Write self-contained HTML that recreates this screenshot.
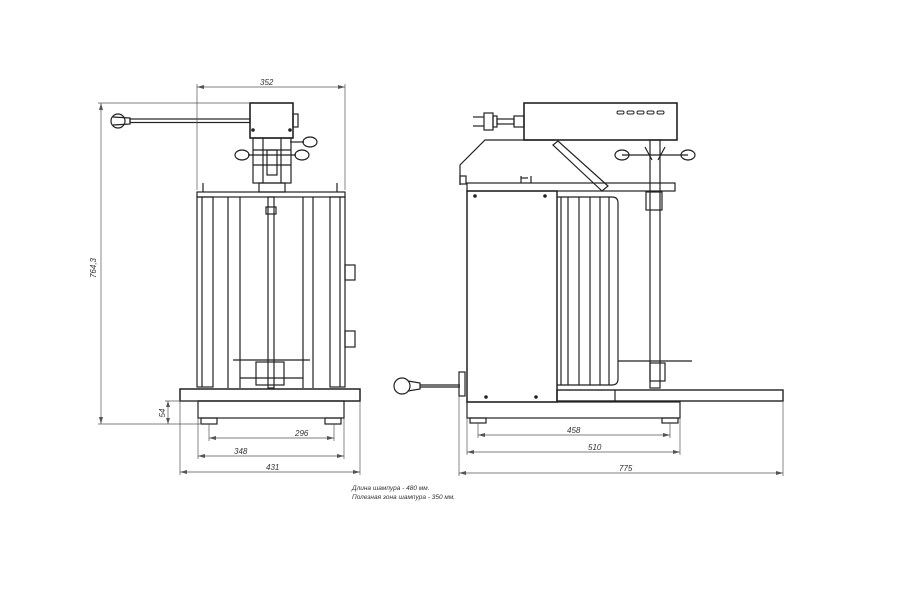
<!DOCTYPE html>
<html><head><meta charset="utf-8"><style>
html,body{margin:0;padding:0;background:#fff;width:900px;height:600px;overflow:hidden}
svg{display:block}
text{font-family:"Liberation Sans",sans-serif;font-style:italic;fill:#333}
</style></head><body>
<svg width="900" height="600" viewBox="0 0 900 600" xmlns="http://www.w3.org/2000/svg">
<g stroke="#222" fill="none" stroke-width="1.2">
<!-- LEFT VIEW -->
<!-- handle -->
<circle cx="118" cy="121" r="7"/>
<path d="M113,117 L130,118 L130,124 L113,125"/>
<rect x="130" y="119" width="120" height="3.5"/>
<!-- top box -->
<rect x="250" y="103" width="43" height="35" stroke-width="1.6"/>
<rect x="293" y="114" width="5" height="13"/>
<circle cx="253" cy="130" r="1.2" fill="#222"/><circle cx="290" cy="130" r="1.2" fill="#222"/>
<!-- gear -->
<rect x="253" y="138" width="38" height="45"/>
<line x1="263" y1="138" x2="263" y2="183"/><line x1="281" y1="138" x2="281" y2="183"/>
<line x1="253" y1="150" x2="291" y2="150"/><line x1="253" y1="165" x2="291" y2="165"/>
<rect x="267" y="150" width="10" height="25"/>
<rect x="259" y="183" width="26" height="9"/>
<line x1="248" y1="155" x2="296" y2="155"/>
<ellipse cx="242" cy="155" rx="7" ry="5"/><ellipse cx="302" cy="155" rx="7" ry="5"/>
<line x1="290" y1="142" x2="304" y2="142"/><ellipse cx="310" cy="142" rx="7" ry="5"/>
<!-- top plate -->
<rect x="197" y="192" width="148" height="5"/>
<line x1="203" y1="183" x2="203" y2="192"/><line x1="337" y1="183" x2="337" y2="192"/>
<!-- columns -->
<rect x="197" y="197" width="16" height="190"/>
<line x1="202" y1="197" x2="202" y2="387"/>
<rect x="330" y="197" width="15" height="190"/>
<line x1="340" y1="197" x2="340" y2="387"/>
<line x1="228" y1="197" x2="228" y2="388"/><line x1="240" y1="197" x2="240" y2="388"/>
<line x1="303" y1="197" x2="303" y2="388"/><line x1="313" y1="197" x2="313" y2="388"/>
<rect x="268" y="197" width="6" height="191"/>
<rect x="266" y="207" width="10" height="7"/>
<!-- side knobs -->
<rect x="345" y="265" width="10" height="15"/><rect x="345" y="331" width="10" height="16"/>
<!-- tray -->
<line x1="233" y1="360" x2="310" y2="360"/>
<rect x="256" y="362" width="28" height="23"/>
<line x1="240" y1="378" x2="303" y2="378"/>
<!-- base -->
<rect x="180" y="389" width="180" height="12" stroke-width="1.5"/>
<rect x="198" y="401" width="146" height="17"/>
<rect x="201" y="418" width="16" height="6"/><rect x="325" y="418" width="16" height="6"/>

<!-- RIGHT VIEW -->
<rect x="524" y="103" width="153" height="37" stroke-width="1.6"/>
<g stroke-width="1"><rect x="617" y="111" width="7" height="3" rx="1.5"/><rect x="627" y="111" width="7" height="3" rx="1.5"/><rect x="637" y="111" width="7" height="3" rx="1.5"/><rect x="647" y="111" width="7" height="3" rx="1.5"/><rect x="657" y="111" width="7" height="3" rx="1.5"/></g>
<!-- plug -->
<line x1="473" y1="117" x2="484" y2="117"/><line x1="473" y1="126" x2="484" y2="126"/>
<rect x="484" y="113" width="9" height="17"/><rect x="493" y="116" width="4" height="11"/>
<rect x="497" y="119" width="17" height="5"/><rect x="514" y="116" width="10" height="11"/>
<!-- hood -->
<path d="M460,185 L460,165 L485,140 L555,140"/>
<rect x="460" y="176" width="6" height="8"/>
<!-- arm -->
<path d="M553,145 L558,141 L608,186 L602,191 Z"/>
<!-- top plate -->
<rect x="467" y="183" width="208" height="8"/>
<line x1="531" y1="183" x2="531" y2="176"/><line x1="521" y1="178" x2="528" y2="178"/>
<line x1="521" y1="183" x2="521" y2="176"/>
<!-- column -->
<rect x="650" y="140" width="10" height="248"/>
<rect x="646" y="192" width="16" height="18"/>
<line x1="622" y1="155" x2="688" y2="155"/>
<ellipse cx="622" cy="155" rx="7" ry="5"/><ellipse cx="688" cy="155" rx="7" ry="5"/>
<path d="M645,147 L652,160 M665,147 L658,160"/>
<!-- body -->
<rect x="467" y="191" width="90" height="211" stroke-width="1.5"/>
<circle cx="475" cy="196" r="1.2" fill="#222"/><circle cx="545" cy="196" r="1.2" fill="#222"/>
<circle cx="486" cy="397" r="1.2" fill="#222"/><circle cx="536" cy="397" r="1.2" fill="#222"/>
<!-- door -->
<path d="M557,197 L612,197 Q618,197 618,203 L618,379 Q618,385 612,385 L557,385"/>
<line x1="561" y1="197" x2="561" y2="385"/>
<line x1="568" y1="197" x2="568" y2="385"/><line x1="579" y1="197" x2="579" y2="385"/>
<line x1="590" y1="197" x2="590" y2="385"/><line x1="600" y1="197" x2="600" y2="385"/>
<line x1="609" y1="197" x2="609" y2="385"/>
<line x1="618" y1="361" x2="692" y2="361"/>
<rect x="650" y="363" width="15" height="18"/>
<!-- base -->
<rect x="557" y="390" width="226" height="11" stroke-width="1.4"/>
<line x1="615" y1="390" x2="615" y2="401"/>
<rect x="467" y="402" width="213" height="16"/>
<rect x="470" y="418" width="16" height="5"/><rect x="662" y="418" width="16" height="5"/>
<!-- left plug -->
<circle cx="402" cy="386" r="8"/>
<path d="M408,381 L420,383 L420,389 L408,391"/>
<line x1="420" y1="385" x2="460" y2="385"/><line x1="420" y1="387" x2="460" y2="387"/>
<rect x="459" y="372" width="6" height="24"/>
</g>

<!-- DIMENSIONS -->
<g stroke="#555" stroke-width="0.7" fill="none">
<line x1="197" y1="87" x2="345" y2="87"/><line x1="197" y1="84" x2="197" y2="190"/><line x1="345" y1="84" x2="345" y2="190"/>
<line x1="101" y1="103" x2="101" y2="424"/><line x1="98" y1="103" x2="250" y2="103"/><line x1="98" y1="424" x2="200" y2="424"/>
<line x1="168" y1="401" x2="168" y2="424"/><line x1="165" y1="401" x2="198" y2="401"/>
<line x1="209" y1="438" x2="334" y2="438"/><line x1="209" y1="424" x2="209" y2="441"/><line x1="334" y1="424" x2="334" y2="441"/>
<line x1="198" y1="456" x2="344" y2="456"/><line x1="198" y1="418" x2="198" y2="459"/><line x1="344" y1="418" x2="344" y2="459"/>
<line x1="180" y1="472" x2="360" y2="472"/><line x1="180" y1="401" x2="180" y2="475"/><line x1="360" y1="401" x2="360" y2="475"/>
<line x1="478" y1="435" x2="670" y2="435"/><line x1="478" y1="423" x2="478" y2="438"/><line x1="670" y1="423" x2="670" y2="438"/>
<line x1="467" y1="452" x2="680" y2="452"/><line x1="467" y1="418" x2="467" y2="455"/><line x1="680" y1="418" x2="680" y2="455"/>
<line x1="459" y1="473" x2="783" y2="473"/><line x1="459" y1="396" x2="459" y2="476"/><line x1="783" y1="401" x2="783" y2="476"/>
</g>
<g fill="#555">
<path d="M197,87 l7,-2 v4z M345,87 l-7,-2 v4z M101,103 l-2,7 h4z M101,424 l-2,-7 h4z M168,401 l-2,6 h4z M168,424 l-2,-6 h4z
M209,438 l7,-2 v4z M334,438 l-7,-2 v4z M198,456 l7,-2 v4z M344,456 l-7,-2 v4z M180,472 l7,-2 v4z M360,472 l-7,-2 v4z
M478,435 l7,-2 v4z M670,435 l-7,-2 v4z M467,452 l7,-2 v4z M680,452 l-7,-2 v4z M459,473 l7,-2 v4z M783,473 l-7,-2 v4z"/>
</g>
<g font-size="8">
<text x="260" y="85">352</text>
<text x="96" y="268" transform="rotate(-90 96 268)" text-anchor="middle">764,3</text>
<text x="165" y="413" transform="rotate(-90 165 413)" text-anchor="middle">54</text>
<text x="295" y="436">296</text>
<text x="234" y="454">348</text>
<text x="266" y="470">431</text>
<text x="567" y="433">458</text>
<text x="588" y="450">510</text>
<text x="619" y="471">775</text>
</g>
<g font-size="6.5">
<text x="352" y="490">Длина шампура - 480 мм.</text>
<text x="352" y="499">Полезная зона шампура - 350 мм.</text>
</g>
</svg>
</body></html>
